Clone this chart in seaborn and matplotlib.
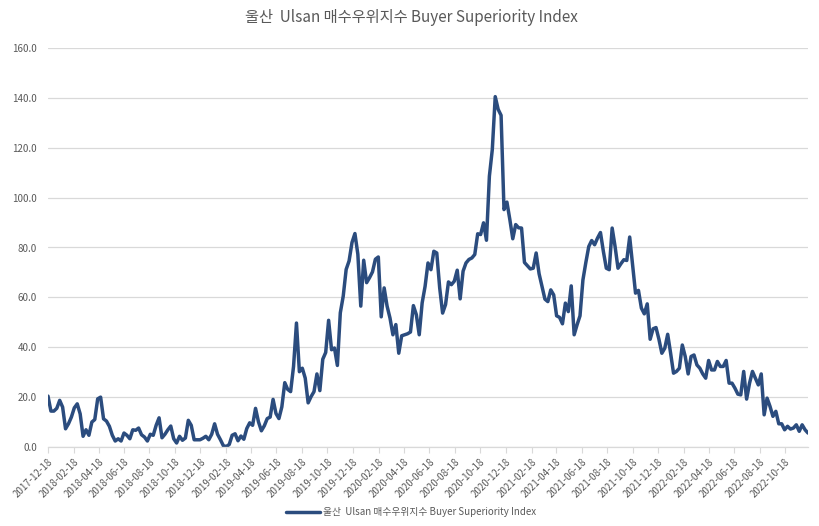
import matplotlib
matplotlib.use("Agg")
import matplotlib.pyplot as plt
import seaborn as sns
import pandas as pd
import numpy as np

title = "울산  Ulsan 매수우위지수 Buyer Superiority Index"
series_name = "울산  Ulsan 매수우위지수 Buyer Superiority Index"
start_date = "2017-12-18"

values = [
    20.4, 14.4, 14.4, 15.5, 18.7, 16.0, 7.3, 9.3, 12.0, 15.7,
    17.3, 13.3, 4.3, 6.9, 4.7, 10.0, 11.0, 19.3, 20.0, 11.3,
    10.4, 8.3, 4.7, 2.4, 3.3, 2.4, 5.6, 4.7, 3.3, 6.9,
    6.7, 7.6, 4.9, 4.0, 2.4, 5.1, 4.7, 8.7, 11.7, 3.7,
    5.1, 6.9, 8.4, 3.3, 1.6, 4.3, 2.7, 3.6, 10.7, 8.7,
    2.9, 2.9, 2.9, 3.5, 4.3, 2.9, 5.1, 9.3, 5.1, 2.9,
    0.5, 0.2, 1.0, 4.7, 5.3, 2.5, 4.4, 3.1, 7.4, 9.7,
    8.7, 15.5, 10.1, 6.5, 8.5, 11.4, 12.0, 19.1, 13.4, 11.4,
    16.1, 25.8, 23.1, 22.2, 32.3, 49.7, 30.2, 31.6, 27.6, 17.7,
    20.2, 22.2, 29.3, 22.6, 35.2, 37.9, 50.8, 39.0, 39.7, 32.7,
    53.8, 60.5, 71.2, 74.6, 82.0, 85.6, 77.3, 56.5, 74.9, 65.9,
    67.9, 70.2, 75.3, 76.2, 52.2, 63.8, 56.5, 51.7, 45.0, 49.1,
    37.6, 44.6, 45.0, 45.4, 46.1, 56.7, 53.1, 45.0, 57.8, 64.4,
    73.8, 71.1, 78.5, 77.8, 63.8, 53.7, 57.1, 66.2, 65.1, 66.5,
    70.9, 59.4, 70.5, 73.8, 75.2, 75.8, 77.2, 85.5, 85.2, 89.9,
    82.9, 108.6, 119.3, 140.5, 135.4, 133.0, 95.2, 98.2, 91.2, 83.5,
    89.2, 87.9, 87.8, 74.0, 72.7, 71.4, 71.7, 77.8, 69.5, 64.4,
    59.3, 58.3, 63.0, 61.0, 52.6, 52.0, 49.4, 57.7, 54.3, 64.6,
    45.0, 49.0, 52.6, 67.0, 74.0, 80.4, 82.8, 81.1, 83.8, 86.0,
    78.4, 71.7, 71.1, 87.8, 80.4, 71.7, 73.5, 75.1, 74.8, 84.2,
    73.1, 61.7, 62.8, 55.7, 53.4, 57.4, 43.2, 47.4, 47.9, 43.2,
    37.6, 39.6, 45.2, 37.6, 29.6, 30.3, 31.6, 40.9, 36.3, 29.3,
    36.3, 36.9, 32.9, 31.6, 29.3, 27.6, 34.7, 30.9, 30.9, 34.3,
    32.3, 32.3, 34.7, 25.6, 25.6, 23.6, 21.2, 20.9, 30.3, 19.2,
    25.6, 30.3, 27.6, 24.9, 29.3, 12.9, 19.6, 16.3, 12.3, 14.3,
    9.3, 9.3, 6.9, 8.3, 7.2, 7.6, 8.9, 6.3, 8.9, 6.9,
    5.6,
]

tick_labels = [
    "2017-12-18",
    "2018-02-18", "2018-04-18", "2018-06-18", "2018-08-18", "2018-10-18", "2018-12-18",
    "2019-02-18", "2019-04-18", "2019-06-18", "2019-08-18", "2019-10-18", "2019-12-18",
    "2020-02-18", "2020-04-18", "2020-06-18", "2020-08-18", "2020-10-18", "2020-12-18",
    "2021-02-18", "2021-04-18", "2021-06-18", "2021-08-18", "2021-10-18", "2021-12-18",
    "2022-02-18", "2022-04-18", "2022-06-18", "2022-08-18", "2022-10-18",
]
y_ticks = [0, 20, 40, 60, 80, 100, 120, 140, 160]

dates = pd.date_range(start_date, periods=len(values), freq="7D")
df = pd.DataFrame({"date": dates, "value": values, "series": series_name})

sns.set_theme(style="white")
plt.rcParams["font.family"] = ["Noto Sans CJK KR", "DejaVu Sans"]

fig = plt.figure(figsize=(8.19, 5.26), dpi=100)
ax = fig.add_axes([48 / 819, 1 - 447 / 526, (808 - 48) / 819, (447 - 48) / 526])

line_color = "#2B4C7E"
sns.lineplot(data=df, x="date", y="value", hue="series", palette=[line_color],
             linewidth=2.5, ax=ax, legend=True)

ax.set_xlim(dates[0], dates[-1])
ax.set_ylim(0, 160)
ax.set_yticks(y_ticks)
ax.set_yticklabels([f"{v:.1f}" for v in y_ticks], color="#595959", fontsize=7)
ax.yaxis.grid(True, color="#D9D9D9", linewidth=0.9)
ax.xaxis.grid(False)
ax.set_axisbelow(True)

tick_dates = pd.to_datetime(tick_labels)
ax.set_xticks(tick_dates)
ax.set_xticklabels(tick_labels, rotation=45, ha="right", rotation_mode="anchor",
                   color="#595959", fontsize=7)
ax.tick_params(axis="x", which="major", direction="out", length=4, width=0.8,
               color="#D9D9D9", pad=3, bottom=True)
ax.tick_params(axis="y", length=0, pad=8)

for s in ["top", "right", "left"]:
    ax.spines[s].set_visible(False)
ax.spines["bottom"].set_color("#D9D9D9")
ax.spines["bottom"].set_linewidth(0.9)

ax.set_xlabel("")
ax.set_ylabel("")

fig.suptitle(title, x=411 / 819, y=1 - 18 / 526, va="center", fontsize=11, color="#595959")

leg = ax.legend(loc="center", bbox_to_anchor=(411 / 819, 1 - 512 / 526),
                bbox_transform=fig.transFigure, frameon=False, fontsize=7,
                handlelength=3.5, handletextpad=0.3)
for t in leg.get_texts():
    t.set_color("#595959")

fig.savefig("out.png", dpi=100)
